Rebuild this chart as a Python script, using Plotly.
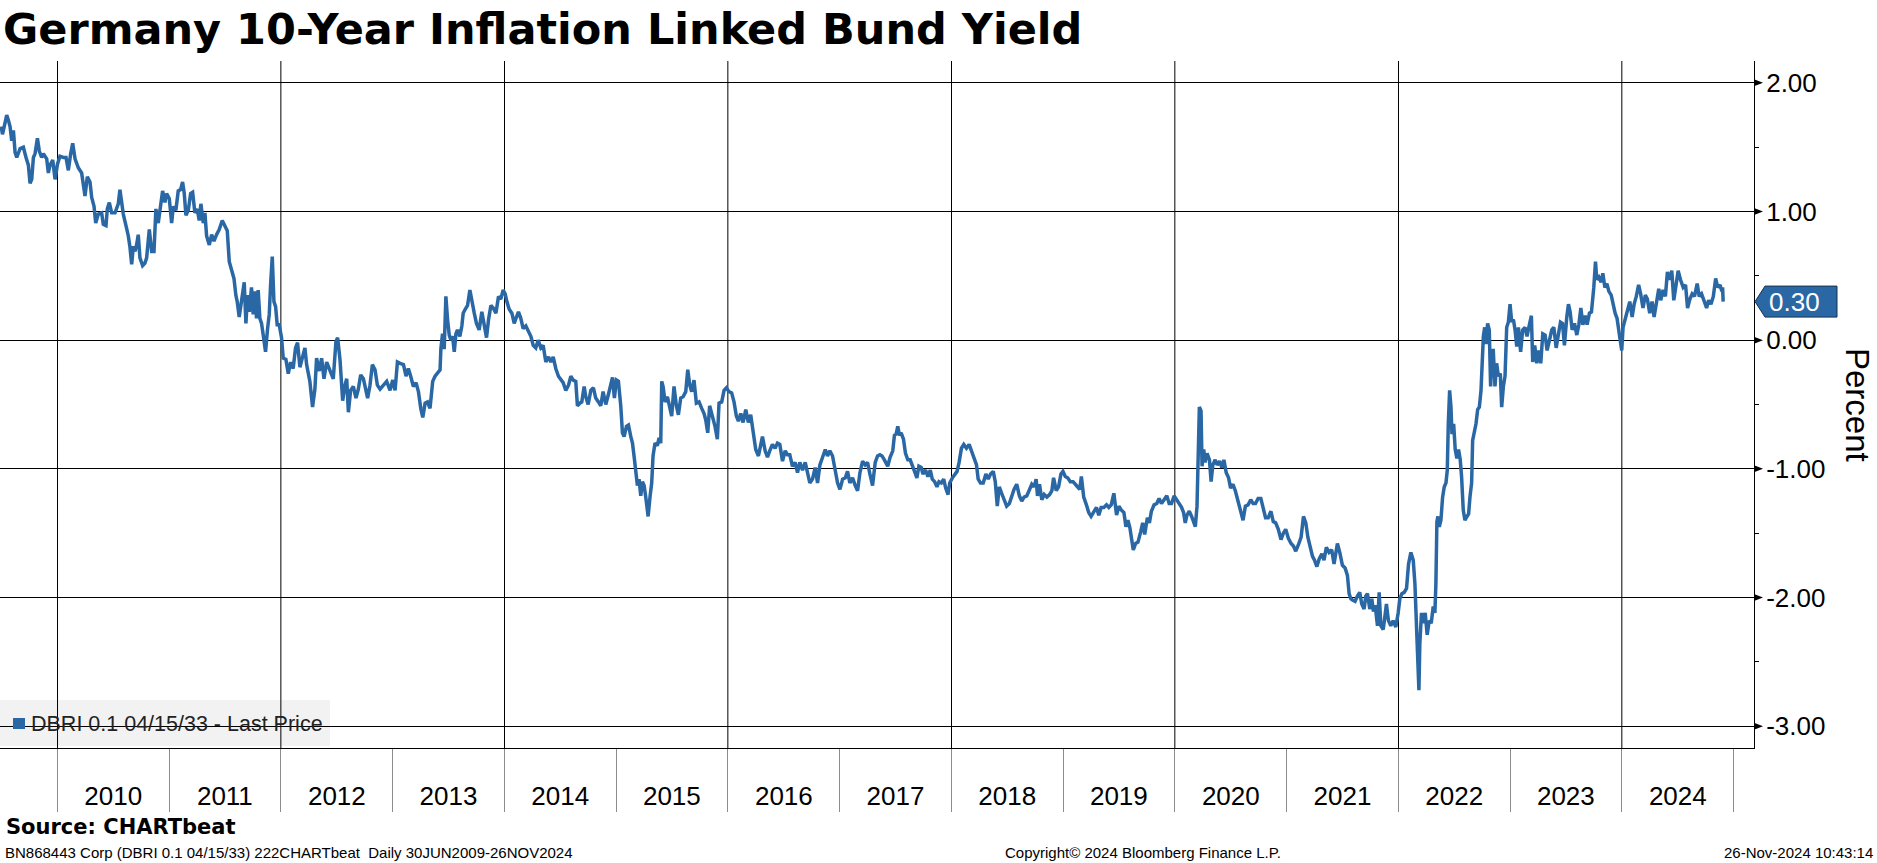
import pandas as pd
import plotly.graph_objects as go

# ---------------- data (decimal year, yield in percent) ----------------
decimal_years = [
    2009.496, 2009.507, 2009.518, 2009.545, 2009.560, 2009.575, 2009.590, 2009.605, 2009.620, 2009.635,
    2009.665, 2009.694, 2009.718, 2009.739, 2009.754, 2009.769, 2009.784, 2009.799, 2009.820, 2009.837,
    2009.858, 2009.873, 2009.903, 2009.918, 2009.933, 2009.957, 2009.978, 2010.000, 2010.022, 2010.052,
    2010.076, 2010.097, 2010.118, 2010.136, 2010.157, 2010.186, 2010.216, 2010.246, 2010.267, 2010.291,
    2010.306, 2010.327, 2010.342, 2010.365, 2010.395, 2010.410, 2010.434, 2010.446, 2010.464, 2010.485,
    2010.515, 2010.544, 2010.559, 2010.574, 2010.589, 2010.613, 2010.634, 2010.649, 2010.664, 2010.679,
    2010.694, 2010.708, 2010.723, 2010.738, 2010.762, 2010.783, 2010.798, 2010.822, 2010.843, 2010.864,
    2010.881, 2010.902, 2010.923, 2010.941, 2010.962, 2010.977, 2011.001, 2011.022, 2011.037, 2011.060,
    2011.081, 2011.102, 2011.120, 2011.135, 2011.150, 2011.171, 2011.192, 2011.210, 2011.230, 2011.251,
    2011.269, 2011.284, 2011.305, 2011.320, 2011.335, 2011.359, 2011.380, 2011.401, 2011.424, 2011.448,
    2011.475, 2011.499, 2011.520, 2011.538, 2011.559, 2011.580, 2011.597, 2011.609, 2011.627, 2011.639,
    2011.657, 2011.672, 2011.687, 2011.702, 2011.717, 2011.737, 2011.752, 2011.767, 2011.782, 2011.797,
    2011.812, 2011.827, 2011.842, 2011.863, 2011.881, 2011.896, 2011.908, 2011.923, 2011.938, 2011.953,
    2011.967, 2011.985, 2012.006, 2012.021, 2012.045, 2012.066, 2012.087, 2012.110, 2012.131, 2012.149,
    2012.170, 2012.194, 2012.215, 2012.230, 2012.259, 2012.283, 2012.304, 2012.319, 2012.343, 2012.364,
    2012.385, 2012.409, 2012.438, 2012.468, 2012.492, 2012.507, 2012.528, 2012.552, 2012.573, 2012.588,
    2012.603, 2012.623, 2012.647, 2012.671, 2012.692, 2012.713, 2012.737, 2012.758, 2012.775, 2012.796,
    2012.817, 2012.841, 2012.862, 2012.886, 2012.916, 2012.945, 2012.975, 2012.999, 2013.020, 2013.041,
    2013.065, 2013.095, 2013.118, 2013.139, 2013.160, 2013.184, 2013.208, 2013.229, 2013.250, 2013.268,
    2013.289, 2013.310, 2013.333, 2013.357, 2013.378, 2013.399, 2013.423,
    2013.430, 2013.445, 2013.460, 2013.475, 2013.490, 2013.505, 2013.520, 2013.535, 2013.550, 2013.565,
    2013.579, 2013.600, 2013.618, 2013.630, 2013.648, 2013.669, 2013.690, 2013.708, 2013.729, 2013.749,
    2013.773, 2013.797, 2013.818, 2013.839, 2013.857, 2013.878, 2013.899, 2013.923, 2013.946, 2013.967,
    2013.988, 2014.006, 2014.021, 2014.042, 2014.066, 2014.087, 2014.107, 2014.125, 2014.146, 2014.167,
    2014.191, 2014.215, 2014.236, 2014.257, 2014.280, 2014.301, 2014.325, 2014.346, 2014.370, 2014.394,
    2014.415, 2014.436, 2014.459, 2014.483, 2014.504, 2014.525, 2014.549, 2014.573, 2014.594, 2014.615,
    2014.638, 2014.653, 2014.674, 2014.692, 2014.713, 2014.728, 2014.749, 2014.773, 2014.796, 2014.817,
    2014.841, 2014.862, 2014.883, 2014.907, 2014.931, 2014.952, 2014.967, 2014.984, 2015.002, 2015.020,
    2015.041, 2015.056, 2015.071, 2015.092, 2015.110, 2015.131, 2015.146, 2015.160, 2015.175, 2015.190,
    2015.205, 2015.220, 2015.235, 2015.250, 2015.265, 2015.286, 2015.304, 2015.318, 2015.330, 2015.348,
    2015.369, 2015.384, 2015.399, 2015.408, 2015.420, 2015.438, 2015.459, 2015.474, 2015.497, 2015.518,
    2015.539, 2015.557, 2015.578, 2015.599, 2015.623, 2015.641, 2015.659, 2015.676, 2015.697, 2015.718,
    2015.742, 2015.766, 2015.787, 2015.802, 2015.820, 2015.837, 2015.861, 2015.885, 2015.906, 2015.921,
    2015.945, 2015.966, 2015.987, 2016.010, 2016.034, 2016.055, 2016.076, 2016.094, 2016.115, 2016.136,
    2016.160, 2016.183, 2016.204, 2016.225, 2016.249, 2016.273, 2016.294, 2016.309, 2016.333, 2016.354,
    2016.374, 2016.398, 2016.422, 2016.443, 2016.464, 2016.488, 2016.512, 2016.532, 2016.553, 2016.577,
    2016.601, 2016.622, 2016.643, 2016.667, 2016.691, 2016.712, 2016.732, 2016.756, 2016.780, 2016.801,
    2016.822, 2016.846, 2016.870, 2016.890, 2016.911, 2016.935, 2016.959, 2016.980, 2017.001, 2017.025,
    2017.049, 2017.069, 2017.090, 2017.114, 2017.138, 2017.159, 2017.180, 2017.204, 2017.227, 2017.248,
    2017.269, 2017.293, 2017.317, 2017.338, 2017.359,
    2017.378, 2017.399, 2017.429, 2017.450, 2017.474, 2017.489, 2017.504, 2017.519, 2017.534, 2017.549,
    2017.570, 2017.588, 2017.609, 2017.630, 2017.648, 2017.669, 2017.690, 2017.708, 2017.729, 2017.744,
    2017.768, 2017.789, 2017.810, 2017.828, 2017.849, 2017.870, 2017.888, 2017.909, 2017.930, 2017.948,
    2017.969, 2017.984, 2018.008, 2018.029, 2018.050, 2018.068, 2018.089, 2018.110, 2018.134, 2018.158,
    2018.179, 2018.200, 2018.224, 2018.239, 2018.260, 2018.284, 2018.308, 2018.329, 2018.350, 2018.374,
    2018.392, 2018.410, 2018.428, 2018.449, 2018.470, 2018.494, 2018.518, 2018.539, 2018.560, 2018.584,
    2018.608, 2018.629, 2018.650, 2018.674, 2018.698, 2018.719, 2018.740, 2018.758, 2018.770, 2018.788,
    2018.809, 2018.830, 2018.854, 2018.878, 2018.899, 2018.914, 2018.938, 2018.959, 2018.980, 2018.998,
    2019.019, 2019.040, 2019.064, 2019.088, 2019.109, 2019.130, 2019.148, 2019.163, 2019.184, 2019.208,
    2019.229, 2019.250, 2019.274, 2019.298, 2019.319, 2019.340, 2019.364, 2019.388, 2019.409, 2019.430,
    2019.454, 2019.478, 2019.499, 2019.520, 2019.544, 2019.562, 2019.580, 2019.598, 2019.610, 2019.628,
    2019.649, 2019.670, 2019.694, 2019.712, 2019.730, 2019.754, 2019.772, 2019.790, 2019.814, 2019.838,
    2019.859, 2019.880, 2019.904, 2019.928, 2019.949, 2019.970, 2019.994, 2020.018, 2020.039, 2020.060,
    2020.078, 2020.093, 2020.108, 2020.129, 2020.150, 2020.168, 2020.183, 2020.198, 2020.210, 2020.219,
    2020.234, 2020.243, 2020.258, 2020.270, 2020.288, 2020.309, 2020.324, 2020.339, 2020.360, 2020.378,
    2020.399, 2020.420, 2020.438, 2020.459, 2020.480, 2020.498, 2020.519, 2020.540, 2020.564, 2020.588,
    2020.609, 2020.630, 2020.654, 2020.678, 2020.699, 2020.720, 2020.744, 2020.768, 2020.789, 2020.810,
    2020.834, 2020.858, 2020.879, 2020.900, 2020.924, 2020.948, 2020.969, 2020.990, 2021.014, 2021.038,
    2021.059, 2021.080, 2021.104, 2021.128, 2021.149, 2021.170, 2021.188, 2021.209, 2021.230, 2021.248,
    2021.269, 2021.290, 2021.314,
    2021.333, 2021.354, 2021.378, 2021.402, 2021.423, 2021.438, 2021.453, 2021.474, 2021.498, 2021.522,
    2021.543, 2021.558, 2021.573, 2021.588, 2021.611, 2021.632, 2021.653, 2021.671, 2021.692, 2021.707,
    2021.722, 2021.743, 2021.761, 2021.776, 2021.791, 2021.812, 2021.827, 2021.842, 2021.863, 2021.878,
    2021.892, 2021.910, 2021.931, 2021.952, 2021.976, 2021.997, 2022.012, 2022.030, 2022.051, 2022.072,
    2022.090, 2022.111, 2022.132, 2022.147, 2022.156, 2022.165, 2022.174, 2022.183, 2022.191, 2022.206,
    2022.221, 2022.239, 2022.257, 2022.275, 2022.293, 2022.311, 2022.326, 2022.335, 2022.344, 2022.353,
    2022.365, 2022.380, 2022.395, 2022.410, 2022.425, 2022.437, 2022.446, 2022.458, 2022.470, 2022.479,
    2022.494, 2022.508, 2022.523, 2022.538, 2022.553, 2022.565, 2022.580, 2022.595, 2022.613, 2022.628,
    2022.640, 2022.655, 2022.664, 2022.679, 2022.694, 2022.709, 2022.724, 2022.739, 2022.748, 2022.760,
    2022.772, 2022.784, 2022.798, 2022.813, 2022.825, 2022.837, 2022.849, 2022.864, 2022.879, 2022.894,
    2022.912, 2022.924, 2022.939, 2022.954, 2022.969, 2022.984, 2022.999, 2023.014, 2023.029, 2023.044,
    2023.059, 2023.074, 2023.094, 2023.112, 2023.133, 2023.151, 2023.172, 2023.190, 2023.202, 2023.220,
    2023.238, 2023.256, 2023.274, 2023.292, 2023.313, 2023.331, 2023.352, 2023.373, 2023.391, 2023.412,
    2023.433, 2023.451, 2023.469, 2023.486, 2023.507, 2023.522, 2023.537, 2023.555, 2023.576, 2023.597,
    2023.615, 2023.633, 2023.651, 2023.672, 2023.689, 2023.710, 2023.728, 2023.740, 2023.749, 2023.764,
    2023.776, 2023.794, 2023.815, 2023.830, 2023.848, 2023.866, 2023.884, 2023.905, 2023.920, 2023.940,
    2023.957, 2023.975, 2023.990, 2023.999, 2024.011, 2024.032, 2024.050, 2024.071, 2024.092, 2024.110,
    2024.129, 2024.150, 2024.168, 2024.189, 2024.210, 2024.228, 2024.249, 2024.270, 2024.288, 2024.309,
    2024.330, 2024.347, 2024.368, 2024.389, 2024.407, 2024.428, 2024.446, 2024.464, 2024.482, 2024.503,
    2024.524, 2024.548, 2024.569, 2024.587, 2024.608, 2024.628, 2024.649, 2024.673, 2024.691, 2024.712,
    2024.733, 2024.757, 2024.775, 2024.796, 2024.817, 2024.838, 2024.856, 2024.877, 2024.893, 2024.900,
    2024.905,
]

yields = [
    1.66, 1.60, 1.64, 1.75, 1.71, 1.66, 1.55, 1.63, 1.46, 1.42,
    1.49, 1.50, 1.42, 1.36, 1.22, 1.25, 1.42, 1.45, 1.57, 1.47,
    1.42, 1.45, 1.41, 1.30, 1.36, 1.40, 1.25, 1.37, 1.43, 1.42,
    1.42, 1.32, 1.45, 1.53, 1.41, 1.34, 1.30, 1.12, 1.27, 1.23,
    1.11, 1.04, 0.91, 0.98, 0.99, 0.90, 0.89, 1.02, 1.07, 0.99,
    0.99, 1.06, 1.17, 1.06, 0.98, 0.89, 0.81, 0.72, 0.59, 0.73,
    0.69, 0.74, 0.82, 0.64, 0.58, 0.60, 0.64, 0.86, 0.69, 0.69,
    1.02, 0.91, 1.03, 1.16, 1.07, 1.14, 1.10, 0.91, 1.04, 1.01,
    1.16, 1.17, 1.23, 1.14, 0.97, 1.01, 1.14, 1.15, 0.99, 1.02,
    0.93, 1.06, 0.91, 0.99, 0.81, 0.74, 0.82, 0.77, 0.82, 0.86,
    0.93, 0.88, 0.85, 0.61, 0.54, 0.48, 0.35, 0.30, 0.18, 0.25,
    0.33, 0.45, 0.13, 0.35, 0.22, 0.41, 0.20, 0.38, 0.17, 0.39,
    0.17, 0.13, 0.04, -0.09, 0.09, 0.20, 0.43, 0.65, 0.30, 0.26,
    0.12, 0.12, 0.02, -0.14, -0.15, -0.26, -0.17, -0.22, -0.06, -0.02,
    -0.21, -0.14, -0.06, -0.19, -0.32, -0.52, -0.38, -0.14, -0.24, -0.14,
    -0.30, -0.17, -0.24, -0.30, -0.01, 0.02, -0.15, -0.47, -0.35, -0.30,
    -0.56, -0.39, -0.36, -0.45, -0.38, -0.27, -0.30, -0.39, -0.45, -0.35,
    -0.19, -0.23, -0.35, -0.38, -0.35, -0.32, -0.39, -0.31, -0.39, -0.17,
    -0.18, -0.19, -0.28, -0.22, -0.28, -0.36, -0.33, -0.40, -0.53, -0.60,
    -0.49, -0.48, -0.53, -0.32, -0.28, -0.26, -0.23,
    -0.07, 0.05, -0.07, 0.34, 0.16, 0.04, 0.00, 0.03, -0.09, 0.05,
    0.08, 0.03, 0.11, 0.21, 0.24, 0.27, 0.39, 0.29, 0.21, 0.13,
    0.08, 0.22, 0.11, 0.02, 0.16, 0.27, 0.25, 0.21, 0.34, 0.32,
    0.39, 0.36, 0.30, 0.24, 0.21, 0.13, 0.18, 0.22, 0.17, 0.09,
    0.11, 0.07, 0.03, -0.04, -0.06, 0.00, -0.06, -0.04, -0.17, -0.13,
    -0.17, -0.13, -0.22, -0.28, -0.30, -0.33, -0.39, -0.35, -0.28, -0.31,
    -0.32, -0.51, -0.49, -0.48, -0.36, -0.44, -0.50, -0.39, -0.37, -0.45,
    -0.48, -0.51, -0.40, -0.50, -0.42, -0.35, -0.29, -0.45, -0.31, -0.32,
    -0.51, -0.72, -0.75, -0.67, -0.66, -0.75, -0.80, -0.90, -1.01, -1.13,
    -1.08, -1.21, -1.10, -1.13, -1.22, -1.37, -1.21, -1.11, -0.90, -0.80,
    -0.82, -0.76, -0.80, -0.32, -0.36, -0.48, -0.44, -0.50, -0.59, -0.36,
    -0.51, -0.58, -0.45, -0.44, -0.40, -0.23, -0.35, -0.40, -0.31, -0.49,
    -0.48, -0.53, -0.57, -0.62, -0.72, -0.51, -0.59, -0.67, -0.77, -0.49,
    -0.48, -0.39, -0.37, -0.40, -0.41, -0.48, -0.59, -0.63, -0.57, -0.64,
    -0.54, -0.64, -0.58, -0.72, -0.85, -0.90, -0.82, -0.75, -0.86, -0.91,
    -0.86, -0.81, -0.84, -0.80, -0.81, -0.94, -0.86, -0.89, -0.89, -0.98,
    -0.95, -1.03, -0.95, -1.01, -0.95, -1.04, -1.11, -1.08, -0.99, -1.11,
    -0.97, -0.91, -0.85, -0.90, -0.86, -0.90, -1.01, -1.11, -1.16, -1.08,
    -1.07, -1.02, -1.11, -1.07, -1.13, -1.17, -1.03, -0.94, -0.97, -0.95,
    -1.04, -1.13, -0.95, -0.90, -0.89,
    -0.90, -0.93, -0.98, -0.91, -0.86, -0.74, -0.73, -0.67, -0.74, -0.72,
    -0.77, -0.88, -0.93, -0.93, -0.98, -1.02, -1.07, -0.98, -0.99, -1.04,
    -1.01, -1.06, -1.01, -1.08, -1.10, -1.14, -1.10, -1.11, -1.08, -1.15,
    -1.20, -1.11, -1.07, -1.04, -1.02, -0.95, -0.84, -0.81, -0.84, -0.81,
    -0.86, -0.90, -0.97, -1.08, -1.11, -1.11, -1.04, -1.08, -1.04, -1.02,
    -1.10, -1.29, -1.14, -1.19, -1.24, -1.29, -1.27, -1.21, -1.16, -1.12,
    -1.21, -1.25, -1.22, -1.21, -1.16, -1.12, -1.14, -1.08, -1.21, -1.12,
    -1.24, -1.20, -1.22, -1.20, -1.17, -1.07, -1.17, -1.14, -1.04, -1.02,
    -1.06, -1.07, -1.10, -1.10, -1.12, -1.14, -1.16, -1.06, -1.22, -1.28,
    -1.34, -1.37, -1.34, -1.30, -1.36, -1.30, -1.30, -1.28, -1.30, -1.28,
    -1.19, -1.36, -1.29, -1.32, -1.34, -1.45, -1.40, -1.46, -1.53, -1.63,
    -1.58, -1.57, -1.49, -1.42, -1.51, -1.38, -1.42, -1.33, -1.28, -1.27,
    -1.23, -1.27, -1.24, -1.21, -1.27, -1.27, -1.21, -1.24, -1.27, -1.30,
    -1.34, -1.42, -1.36, -1.33, -1.37, -1.42, -1.45, -1.29, -0.90, -0.52,
    -0.55, -0.98, -0.85, -0.95, -0.88, -0.93, -1.10, -0.97, -0.93, -0.97,
    -0.94, -0.99, -0.93, -1.03, -1.07, -1.15, -1.12, -1.17, -1.25, -1.32,
    -1.40, -1.29, -1.28, -1.24, -1.27, -1.27, -1.23, -1.23, -1.32, -1.38,
    -1.38, -1.33, -1.41, -1.42, -1.47, -1.55, -1.50, -1.47, -1.54, -1.58,
    -1.60, -1.64, -1.59, -1.53, -1.37, -1.42, -1.53, -1.60, -1.68, -1.71,
    -1.76, -1.70, -1.66,
    -1.71, -1.61, -1.65, -1.63, -1.74, -1.66, -1.58, -1.65, -1.75, -1.77,
    -1.83, -1.97, -2.01, -2.02, -2.03, -1.99, -1.96, -2.05, -2.09, -1.99,
    -1.97, -2.09, -2.01, -2.11, -2.06, -2.22, -1.96, -2.22, -2.25, -2.15,
    -2.05, -2.18, -2.22, -2.18, -2.23, -2.12, -2.01, -1.97, -1.96, -1.93,
    -1.74, -1.65, -1.71, -1.89, -2.10, -2.41, -2.64, -2.72, -2.36, -2.12,
    -2.20, -2.12, -2.29, -2.18, -2.20, -2.07, -2.12, -1.89, -1.41, -1.37,
    -1.45, -1.40, -1.22, -1.14, -1.11, -1.01, -0.65, -0.39, -0.52, -0.73,
    -0.65, -0.85, -0.92, -0.85, -0.93, -1.06, -1.32, -1.40, -1.37, -1.35,
    -1.22, -1.11, -0.78, -0.71, -0.65, -0.54, -0.52, -0.39, -0.18, 0.03,
    0.10, -0.03, 0.13, 0.08, -0.36, -0.08, -0.08, -0.36, -0.18, -0.28,
    -0.26, -0.52, -0.36, -0.28, 0.10, 0.14, 0.28, 0.14, 0.16, 0.08,
    -0.05, 0.10, -0.09, 0.08, 0.10, 0.03, 0.12, 0.19, -0.17, -0.04,
    -0.18, -0.08, -0.18, 0.05, 0.04, -0.08, 0.00, 0.08, 0.10, -0.06,
    0.05, 0.14, 0.13, -0.04, 0.18, 0.28, 0.22, 0.08, 0.13, 0.04,
    0.12, 0.25, 0.12, 0.19, 0.12, 0.21, 0.22, 0.31, 0.41, 0.61,
    0.47, 0.49, 0.45, 0.52, 0.41, 0.44, 0.38, 0.35, 0.28, 0.21,
    0.17, 0.06, 0.01, -0.08, 0.10, 0.17, 0.21, 0.30, 0.18, 0.28,
    0.34, 0.43, 0.36, 0.25, 0.35, 0.32, 0.21, 0.30, 0.18, 0.31,
    0.40, 0.31, 0.39, 0.34, 0.53, 0.47, 0.54, 0.31, 0.41, 0.54,
    0.47, 0.41, 0.43, 0.25, 0.32, 0.36, 0.34, 0.44, 0.34, 0.36,
    0.31, 0.25, 0.31, 0.28, 0.34, 0.48, 0.41, 0.43, 0.38, 0.41,
    0.30,
]

series_name = "DBRI 0.1 04/15/33 - Last Price"
title_text = "Germany 10-Year Inflation Linked Bund Yield"
y_ticks = [-3, -2, -1, 0, 1, 2]
label_years = list(range(2010, 2025))
grid_years = list(range(2010, 2025, 2))
sep_years = list(range(2010, 2026))
source_text = "Source: CHARTbeat"
footer_left = "BN868443 Corp (DBRI 0.1 04/15/33) 222CHARTbeat  Daily 30JUN2009-26NOV2024"
footer_mid = "Copyright\u00a9 2024 Bloomberg Finance L.P."
footer_right = "26-Nov-2024 10:43:14"


def to_date(y):
    yr = int(y)
    start = pd.Timestamp(yr, 1, 1)
    end = pd.Timestamp(yr + 1, 1, 1)
    return start + (end - start) * (y - yr)


dates = [to_date(v) for v in decimal_years]

BLUE = "#2a67a5"
W, H = 1877, 863
M_L, M_R, M_T, M_B = 0, 123, 61, 115
PW = W - M_L - M_R
PH = H - M_T - M_B
Y_MIN, Y_MAX = -3.17, 2.17
X_RANGE = ["2009-06-27", "2025-03-08"]
FONT = "Liberation Sans, Arial, sans-serif"


def ypaper(v):
    return (v - Y_MIN) / (Y_MAX - Y_MIN)


def py2paper(py):
    # pixel from top of figure -> paper y
    return (H - M_B - py) / PH


def px2paper(px):
    return (px - M_L) / PW


fig = go.Figure()
fig.add_trace(go.Scatter(
    x=dates, y=yields, mode="lines", name=series_name,
    line=dict(color=BLUE, width=3.5), showlegend=False,
    hovertemplate="%{x|%d %b %Y}: %{y:.2f}<extra></extra>",
))

shapes = []
# legend box (below gridlines)
shapes.append(dict(type="rect", xref="paper", yref="paper",
                   x0=px2paper(0), x1=px2paper(330), y0=py2paper(746), y1=py2paper(700),
                   fillcolor="#f2f2f2", line=dict(width=0), layer="below"))
# vertical gridlines every two years
for y in grid_years:
    shapes.append(dict(type="line", xref="x", yref="paper", x0=f"{y}-01-01", x1=f"{y}-01-01",
                       y0=0, y1=1, line=dict(color="black", width=1), layer="below"))
shapes.append(dict(type="rect", xref="paper", yref="paper",
                   x0=px2paper(13), x1=px2paper(25), y0=py2paper(729), y1=py2paper(718),
                   fillcolor=BLUE, line=dict(width=0), layer="above"))
# arrow markers at major y ticks
for v in y_ticks:
    shapes.append(dict(type="path", xref="paper", yref="paper",
                       xsizemode="pixel", ysizemode="pixel", xanchor=1.0, yanchor=ypaper(v),
                       path="M0,-3.5 L9,0 L0,3.5 Z", fillcolor="black", line=dict(width=0)))
# last value tag
last_val = yields[-1]
shapes.append(dict(type="path", xref="paper", yref="paper",
                   xsizemode="pixel", ysizemode="pixel", xanchor=1.0, yanchor=ypaper(last_val),
                   path="M1,0 L11,15.5 L83,15.5 L83,-15.5 L11,-15.5 Z",
                   fillcolor=BLUE, line=dict(color="#17324f", width=1)))

annotations = [
    dict(xref="paper", yref="paper", x=1.0, y=ypaper(last_val), xshift=40,
         text=f"{last_val:.2f}", showarrow=False, xanchor="center", yanchor="middle",
         font=dict(family=FONT, size=26, color="white")),
    dict(xref="paper", yref="paper", x=px2paper(29), y=py2paper(724), text=series_name,
         showarrow=False, xanchor="left", yanchor="middle",
         font=dict(family=FONT, size=21.5, color="#222222")),
    dict(xref="paper", yref="paper", x=px2paper(1858), y=py2paper(405), text="Percent",
         textangle=90, showarrow=False, xanchor="center", yanchor="middle",
         font=dict(family=FONT, size=33, color="black")),
    dict(xref="paper", yref="paper", x=px2paper(4), y=py2paper(827), text=f"<b>{source_text}</b>",
         showarrow=False, xanchor="left", yanchor="middle",
         font=dict(family="DejaVu Sans, sans-serif", size=21, color="black")),
    dict(xref="paper", yref="paper", x=px2paper(3), y=py2paper(852), text=footer_left,
         showarrow=False, xanchor="left", yanchor="middle",
         font=dict(family=FONT, size=15, color="black")),
    dict(xref="paper", yref="paper", x=px2paper(1143), y=py2paper(852), text=footer_mid,
         showarrow=False, xanchor="center", yanchor="middle",
         font=dict(family=FONT, size=15, color="black")),
    dict(xref="paper", yref="paper", x=px2paper(1875), y=py2paper(852), text=footer_right,
         showarrow=False, xanchor="right", yanchor="middle",
         font=dict(family=FONT, size=15, color="black")),
]

fig.update_layout(
    width=W, height=H,
    margin=dict(l=M_L, r=M_R, t=M_T, b=M_B, pad=0),
    paper_bgcolor="white", plot_bgcolor="white",
    title=dict(text=f"<b>{title_text}</b>", xref="container", yref="container",
               x=3 / W, xanchor="left", y=1 - 29 / H, yanchor="middle",
               font=dict(family="DejaVu Sans, sans-serif", size=43, color="black")),
    xaxis=dict(
        type="date", range=X_RANGE,
        tickmode="array", tickvals=[f"{y}-07-02" for y in label_years],
        ticktext=[str(y) for y in label_years],
        ticks="", showgrid=False, zeroline=False,
        ticklabelstandoff=25,
        tickfont=dict(family=FONT, size=26, color="black"),
        showline=True, linecolor="black", linewidth=1,
        minor=dict(tickmode="array", tickvals=[f"{y}-01-01" for y in sep_years],
                   ticks="outside", ticklen=63, tickcolor="#8c8c8c", tickwidth=1,
                   showgrid=False),
    ),
    yaxis=dict(
        side="right", range=[Y_MIN, Y_MAX],
        tickmode="array", tickvals=y_ticks, ticktext=[f"{v:.2f}" for v in y_ticks],
        showgrid=True, gridcolor="black", gridwidth=1, zeroline=False,
        ticks="", ticklabelstandoff=6,
        tickfont=dict(family=FONT, size=26, color="black"),
        showline=True, linecolor="black", linewidth=1,
        minor=dict(dtick=0.5, tick0=0, ticks="outside", ticklen=4, tickcolor="black",
                   tickwidth=1, showgrid=False),
    ),
    shapes=shapes,
    annotations=annotations,
    showlegend=False,
)

fig.write_html("out.html",
               config={"displayModeBar": False},
               post_script="document.body.style.margin='0';document.body.style.overflow='hidden';")
